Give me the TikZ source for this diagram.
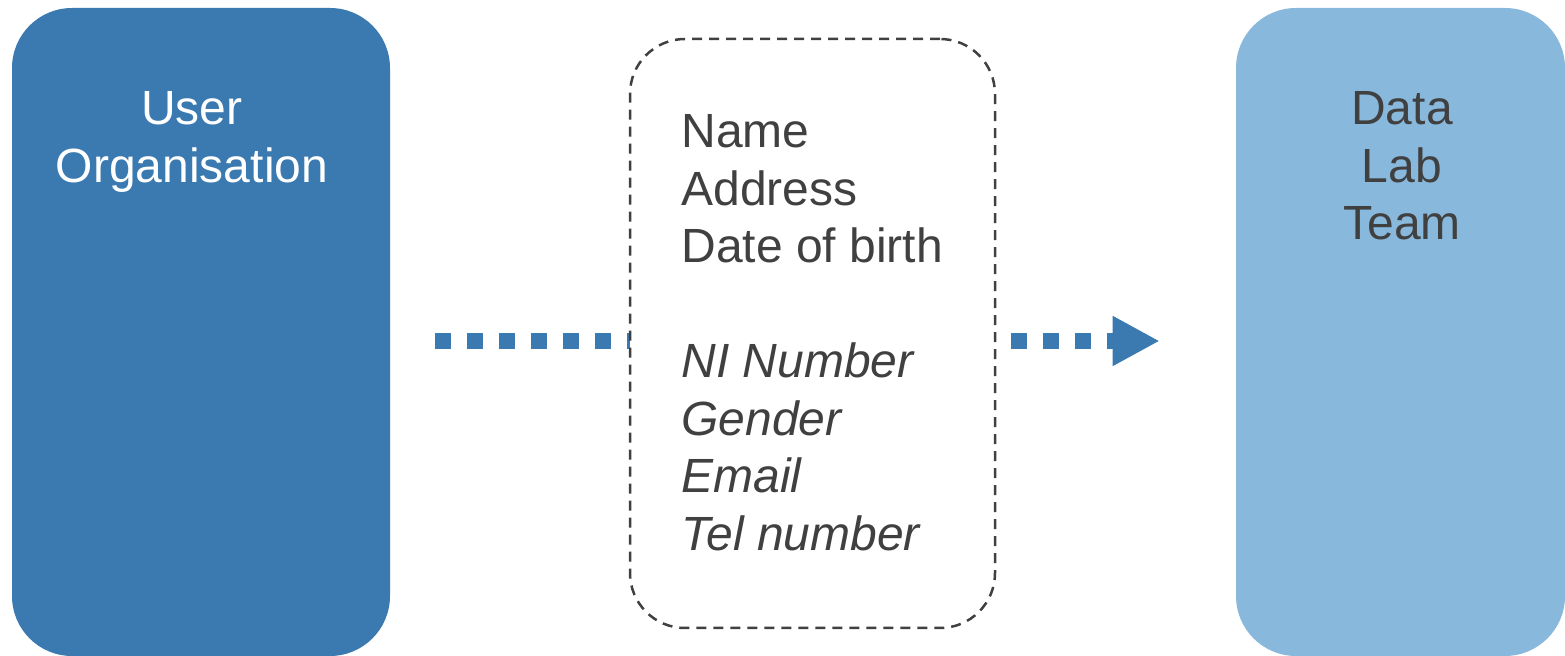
\documentclass[tikz,border=0pt]{standalone}
\usepackage{fontspec}
\setmainfont{Liberation Sans}
\usetikzlibrary{arrows.meta}
\definecolor{blueA}{RGB}{58,122,176}
\definecolor{blueB}{RGB}{136,185,221}
\definecolor{txtgray}{RGB}{64,64,64}
\begin{document}
\begin{tikzpicture}[x=0.5pt,y=-0.5pt,
  bigbox/.style={rounded corners=30pt, inner sep=0pt, draw=none},
  databox/.style={draw=txtgray, line width=1.25pt, dash pattern=on 5pt off 3.5pt,
     fill=white, rounded corners=27.5pt, inner sep=0pt,
     minimum width=182.5pt, minimum height=294.5pt},
  lbl/.style={inner sep=0pt, font=\fontsize{24}{28.75}\selectfont},
  flow/.style={draw=blueA, line width=8pt, dash pattern=on 8pt off 8pt,
     shorten <=22.5pt, shorten >=38pt,
     -{Triangle[length=23.5pt,width=23.5pt,fill=blueA]}}
]
\useasboundingbox (0,0) rectangle (1565,656);
\node[bigbox, fill=blueA, minimum width=189pt, minimum height=324pt] (L) at (201,332) {};
\node[bigbox, fill=blueB, minimum width=164.5pt, minimum height=324pt] (R) at (1400.5,332) {};
\coordinate (ay) at (0,341);
\draw[flow] (L.east |- ay) -- (R.west |- ay);
\node[databox] (M) at (812.5,333.5) {};
\node[lbl, text=white, anchor=base] (Lt) at (192,125)
  {\begin{tabular}[t]{@{}c@{}}User\\Organisation\end{tabular}};
\node[lbl, text=txtgray, anchor=base] (Rt) at (1402,125)
  {\begin{tabular}[t]{@{}c@{}}Data\\Lab\\Team\end{tabular}};
\node[lbl, text=txtgray, anchor=base west] (Mt) at (681,148)
  {\begin{tabular}[t]{@{}l@{}}Name\\Address\\Date of birth\\[28.75pt]
   \itshape NI Number\\\itshape Gender\\\itshape Email\\\itshape Tel number\end{tabular}};
\end{tikzpicture}
\end{document}
